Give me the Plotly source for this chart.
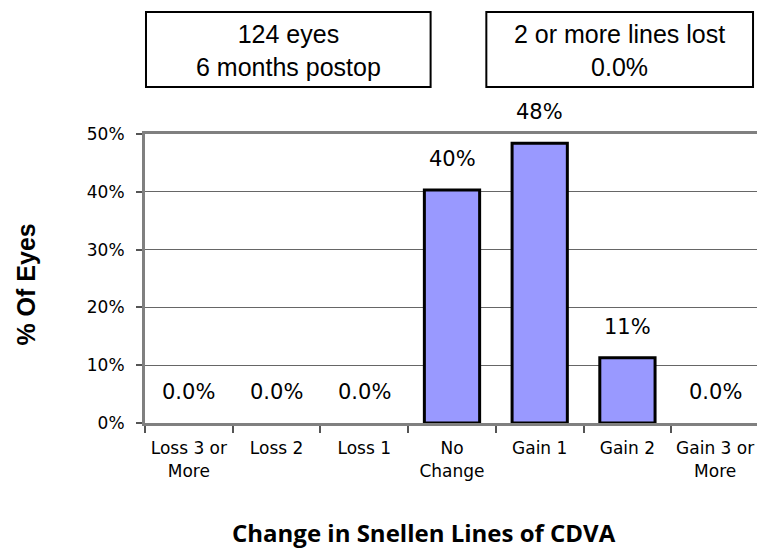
import plotly.graph_objects as go

categories = ["Loss 3 or<br>More", "Loss 2", "Loss 1", "No<br>Change", "Gain 1", "Gain 2", "Gain 3 or<br>More"]
values = [0.0, 0.0, 0.0, 40.3, 48.4, 11.3, 0.0]
value_labels = ["0.0%", "0.0%", "0.0%", "40%", "48%", "11%", "0.0%"]
y_ticks = [0, 10, 20, 30, 40, 50]
y_tick_labels = ["0%", "10%", "20%", "30%", "40%", "50%"]
box_texts = ["124 eyes<br>6 months postop", "2 or more lines lost<br>0.0%"]

# page has an 8px body margin; work in reference pixel coords, then offset
OFF = 8
W, H = 765 - OFF, 550 - OFF
L, R, T, B = 145 - OFF, 762 - OFF, 134 - OFF, 423 - OFF
pw, ph = R - L, B - T


def px(x):
    return (x - OFF - L) / pw


def py(y):
    return (B - (y - OFF)) / ph


fig = go.Figure()
fig.add_trace(go.Bar(
    x=categories, y=values,
    marker=dict(color="#9999FF",
                line=dict(color="black", width=[3 if v > 0 else 0 for v in values])),
    width=0.63,
    hoverinfo="skip",
))

for c, v, t in zip(categories, values, value_labels):
    fig.add_annotation(x=c, y=v, text=t, showarrow=False, xref="x", yref="y",
                       yanchor="bottom", yshift=17,
                       font=dict(family="DejaVu Sans", size=21, color="black"))

boxes = [(146, 432), (488, 756)]
for (x0, x1), txt in zip(boxes, box_texts):
    fig.add_shape(type="rect", xref="paper", yref="paper",
                  x0=px(x0), x1=px(x1), y0=py(87), y1=py(12),
                  line=dict(color="black", width=2), fillcolor="white")
    fig.add_annotation(x=(px(x0) + px(x1)) / 2, y=py(50), xref="paper", yref="paper",
                       text=txt, showarrow=False, xanchor="center", yanchor="middle",
                       font=dict(family="Liberation Sans, Arial", size=25, color="black"))

fig.add_annotation(x=px(425), y=py(550), xref="paper", yref="paper",
                   text="<b>Change in Snellen Lines of CDVA</b>", showarrow=False,
                   xanchor="center", yanchor="bottom", borderpad=0,
                   font=dict(family="Open Sans", size=24, color="black"))
fig.add_annotation(x=px(25), y=py(285), xref="paper", yref="paper",
                   text="<b>% Of Eyes</b>", showarrow=False, textangle=-90,
                   xanchor="center", yanchor="middle",
                   font=dict(family="Liberation Sans, Arial", size=25, color="black"))

fig.update_layout(
    width=W, height=H,
    margin=dict(l=L, r=W - R, t=T, b=H - B),
    paper_bgcolor="white", plot_bgcolor="white",
    showlegend=False,
    xaxis=dict(
        type="category", tickson="boundaries", ticks="outside", ticklen=7,
        tickcolor="#555", tickwidth=1.5,
        showline=True, linecolor="#808080", linewidth=3, mirror=True,
        showgrid=False, ticklabelstandoff=8,
        tickfont=dict(family="DejaVu Sans", size=17, color="black"),
        range=[-0.5, 6.5], fixedrange=True,
    ),
    yaxis=dict(
        range=[0, 50], tickvals=y_ticks, ticktext=y_tick_labels,
        ticks="outside", ticklen=6, tickcolor="#555", tickwidth=1.5,
        showline=True, linecolor="#808080", linewidth=3, mirror=True,
        showgrid=True, gridcolor="#666", gridwidth=1.2,
        ticklabelstandoff=8,
        tickfont=dict(family="DejaVu Sans", size=17, color="black"),
        zeroline=False, fixedrange=True,
    ),
)

fig.write_html("out.html")
